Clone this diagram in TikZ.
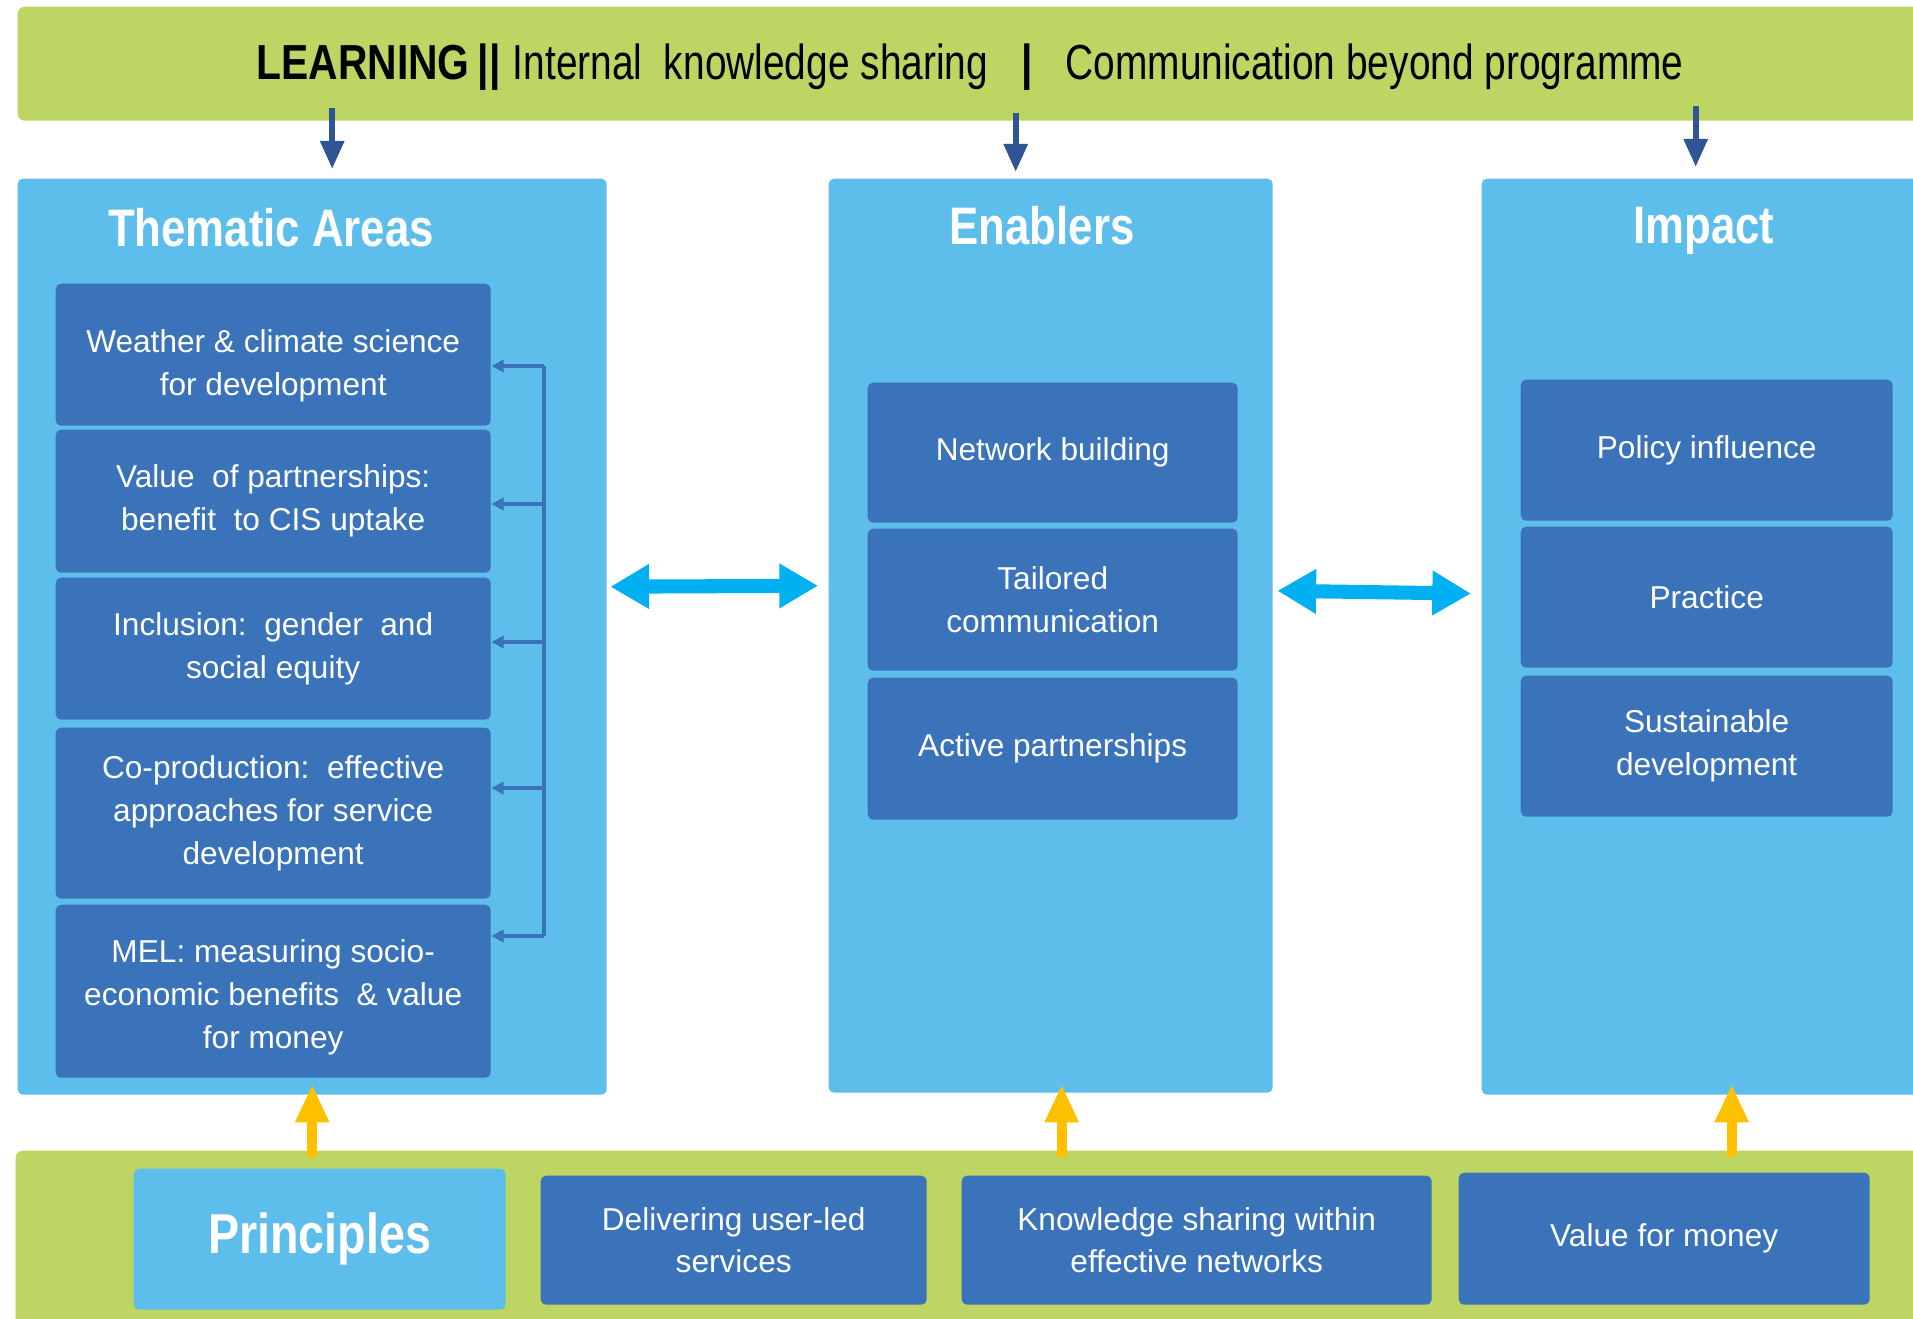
\documentclass[tikz,border=0pt]{standalone}
\usepackage{fontspec}
\setmainfont{Liberation Sans}
\newfontfamily\narrowfont[FakeStretch=0.83]{Liberation Sans}
\newfontfamily\barfont[FakeStretch=0.79]{Liberation Sans}
\usetikzlibrary{arrows.meta, calc}

\definecolor{bargreen}{RGB}{189,213,98}
\definecolor{panelblue}{RGB}{94,190,235}
\definecolor{boxblue}{RGB}{58,115,185}
\definecolor{navyarrow}{RGB}{47,85,150}
\definecolor{cyanarrow}{RGB}{0,176,240}
\definecolor{goldarrow}{RGB}{255,192,0}

\begin{document}
\begin{tikzpicture}[x=1cm, y=-1cm,
	bar/.style={fill=bargreen, rounded corners=2pt, anchor=north west, inner sep=0pt},
	panel/.style={fill=panelblue, rounded corners=1.5pt, anchor=north west, inner sep=0pt},
	item/.style={fill=boxblue, rounded corners=1.5pt, anchor=north west, inner sep=0pt, text=white, align=center, font=\fontsize{9}{12.2}\selectfont},
	heading/.style={text=white, font=\narrowfont\bfseries\fontsize{15}{18}\selectfont},
	learnarrow/.style={draw=navyarrow, line width=1.8pt, -{Triangle[length=8pt,width=6.5pt]}},
	feedback/.style={draw=boxblue, line width=0.9pt, -{Triangle[length=3.5pt,width=3.5pt]}},
	twoway/.style={draw=cyanarrow, line width=4pt, {Triangle[length=11pt,width=12pt]}-{Triangle[length=11pt,width=12pt]}},
	uparrow/.style={draw=goldarrow, line width=2.8pt, -{Triangle[length=10.8pt,width=9pt]}}]

		\clip (0,0) rectangle (19.13,13.18);

		% Draw the learning bar
		\node[bar, minimum width=19.3cm, minimum height=1.14cm] (learn) at (0.17,0.06) {};
		\node[font=\barfont\fontsize{14}{17}\selectfont] (learntext) at (9.70,0.67)
			{{\narrowfont\bfseries LEARNING\,||}\hspace{0.12cm}Internal\ \ knowledge sharing\hspace{0.33cm}{\narrowfont\bfseries |}\hspace{0.33cm}Communication beyond programme};

		% Draw the three panels
		\node[panel, minimum width=5.89cm, minimum height=9.16cm] (thema) at (0.17,1.78) {};
		\node[panel, minimum width=4.44cm, minimum height=9.14cm] (enab) at (8.28,1.78) {};
		\node[panel, minimum width=4.60cm, minimum height=9.16cm] (impact) at (14.81,1.78) {};

		\node[heading] (thematitle) at (2.71,2.28) {Thematic Areas};
		\node[heading] (enabtitle) at (10.42,2.26) {Enablers};
		\node[heading] (impacttitle) at (17.04,2.31) {Impact};

		% Thematic areas
		\node[item, minimum width=4.35cm, minimum height=1.42cm] (t1) at (0.55,2.83) {\rule{0pt}{13pt}Weather \& climate science\\for development};
		\node[item, minimum width=4.35cm, minimum height=1.43cm] (t2) at (0.55,4.29) {Value\ \ of\ partnerships:\\benefit\ \ to\ CIS\ uptake};
		\node[item, minimum width=4.35cm, minimum height=1.42cm] (t3) at (0.55,5.77) {Inclusion:\ \ gender\ \ and\\social equity};
		\node[item, minimum width=4.35cm, minimum height=1.71cm] (t4) at (0.55,7.27) {Co-production:\ \ effective\\approaches\ for\ service\\development};
		\node[item, minimum width=4.35cm, minimum height=1.73cm] (t5) at (0.55,9.04) {\rule{0pt}{10pt}MEL:\ measuring socio-\\economic benefits\ \ \& value\\for money};

		% Enablers
		\node[item, minimum width=3.70cm, minimum height=1.40cm] (e1) at (8.67,3.82) {Network building};
		\node[item, minimum width=3.70cm, minimum height=1.42cm] (e2) at (8.67,5.28) {Tailored\\communication};
		\node[item, minimum width=3.70cm, minimum height=1.42cm] (e3) at (8.67,6.77) {Active partnerships};

		% Impact
		\node[item, minimum width=3.72cm, minimum height=1.41cm] (i1) at (15.20,3.79) {Policy influence};
		\node[item, minimum width=3.72cm, minimum height=1.41cm] (i2) at (15.20,5.26) {Practice};
		\node[item, minimum width=3.72cm, minimum height=1.41cm] (i3) at (15.20,6.75) {Sustainable\\development};

		% Draw the principles bar
		\node[bar, minimum width=19.3cm, minimum height=1.9cm] (princbar) at (0.15,11.50) {};
		\node[panel, heading, font=\narrowfont\bfseries\fontsize{16}{19}\selectfont, minimum width=3.72cm, minimum height=1.41cm] (principles) at (1.33,11.68) {Principles};
		\node[item, minimum width=3.86cm, minimum height=1.29cm] (deliver) at (5.40,11.75) {Delivering user-led\\services};
		\node[item, minimum width=4.70cm, minimum height=1.29cm] (knowshare) at (9.61,11.75) {Knowledge sharing within\\effective networks};
		\node[item, minimum width=4.11cm, minimum height=1.32cm] (vfm) at (14.58,11.72) {Value\ for money};

		% Feedback bracket
		\coordinate (br1) at (5.44,3.66);
		\coordinate (br2) at (5.44,5.04);
		\coordinate (br3) at (5.44,6.42);
		\coordinate (br4) at (5.44,7.88);
		\coordinate (br5) at (5.44,9.36);
		\draw[feedback, -] (br1) -- (br5);
		\foreach \i in {1,...,5}
			\draw[feedback] (br\i) -- (br\i -| t\i.east);

		% Learning arrows
		\draw[learnarrow] ($(learn.south -| thema.north)+(0.20,-0.13)$) -- ($(thema.north)+(0.20,-0.09)$);
		\draw[learnarrow] ($(learn.south -| enab.north)+(-0.35,-0.08)$) -- ($(enab.north)+(-0.35,-0.06)$);
		\draw[learnarrow] ($(learn.south -| impact.north)+(-0.16,-0.15)$) -- ($(impact.north)+(-0.16,-0.11)$);

		% Two-way arrows
		\draw[twoway, shorten <=0.03cm, shorten >=0.10cm] ($(thema.east)+(0,-0.50)$) -- ($(enab.west)+(0,-0.50)$);
		\draw[twoway, shorten <=0.04cm, shorten >=0.10cm] ($(enab.east)+(0,-0.45)$) -- ($(impact.west)+(0,-0.43)$);

		% Principles arrows
		\draw[uparrow] ($(princbar.north -| thema.south)+(0,0.07)$) -- ($(thema.south)+(0,-0.11)$);
		\draw[uparrow] ($(princbar.north -| enab.south)+(0.11,0.07)$) -- ($(enab.south)+(0.11,-0.09)$);
		\draw[uparrow] ($(princbar.north -| impact.south)+(0.20,0.07)$) -- ($(impact.south)+(0.20,-0.11)$);

	\end{tikzpicture}
\end{document}
